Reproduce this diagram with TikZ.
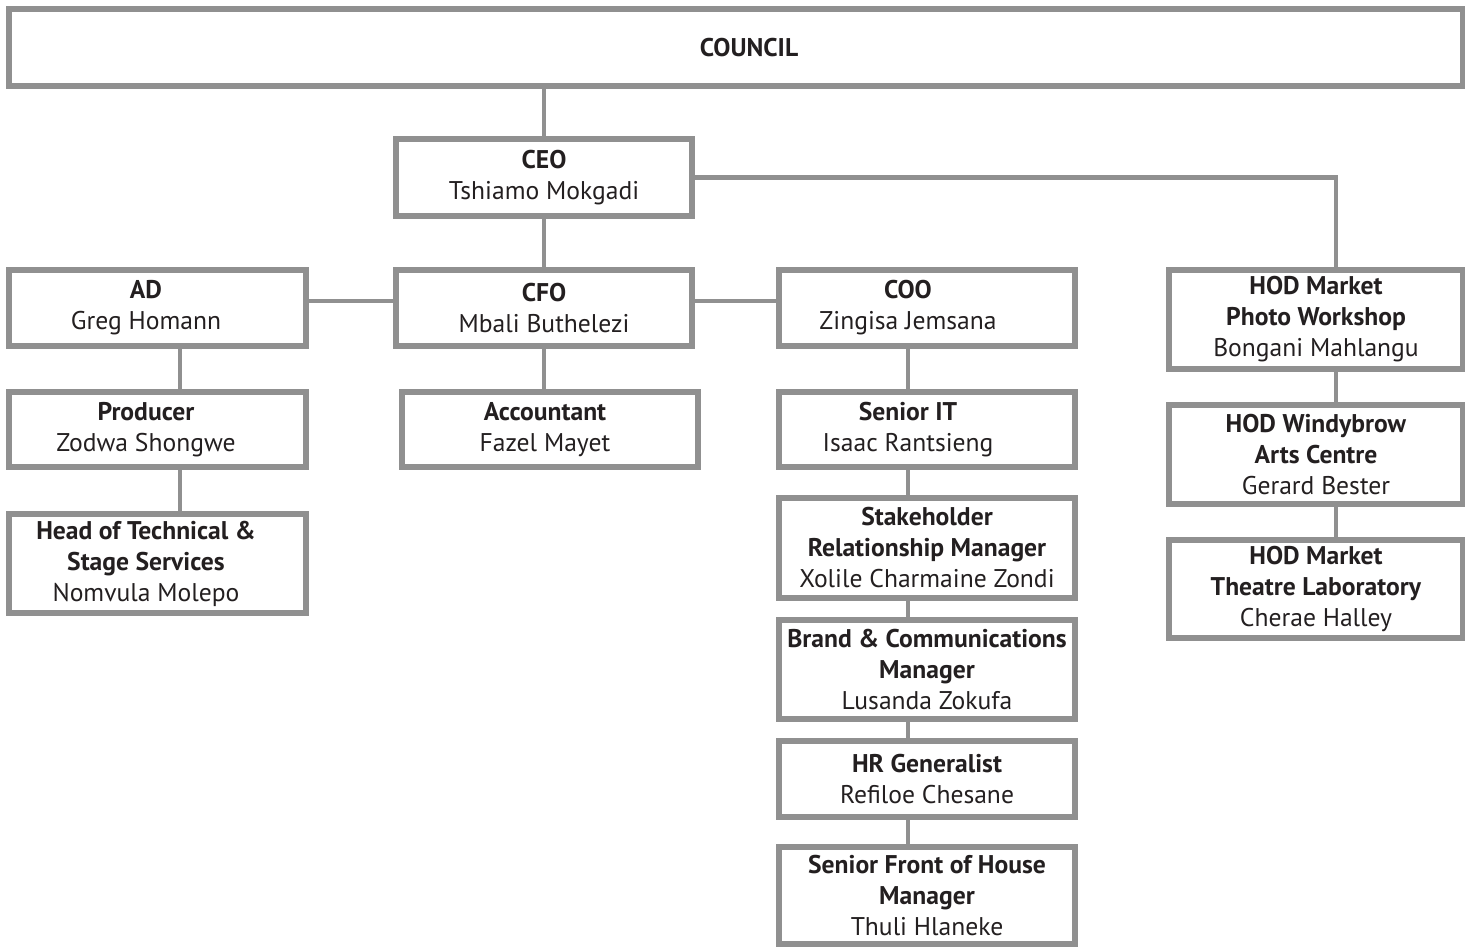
\documentclass[tikz,border=0pt]{standalone}
\usepackage{fontspec}
\setmainfont{PT Sans}
\definecolor{linegray}{RGB}{144,144,144}
\definecolor{inkblack}{RGB}{35,31,32}
\tikzset{
  post/.style={draw=linegray, line width=3pt, rectangle, inner sep=0pt,
    align=center, text=inkblack, font=\fontsize{12.8}{15.5}\selectfont},
  posttext/.style={inner sep=0pt, align=center, text=inkblack,
    font=\fontsize{12.8}{15.5}\selectfont},
  link/.style={draw=linegray, line width=2.4pt},
}
\begin{document}
\begin{tikzpicture}[x=0.5pt, y=-0.5pt]
    \useasboundingbox (0,0) rectangle (1465,947);

    % top of the tree
    \node[post, minimum width=727pt, minimum height=38.5pt] (council) at (736,47.5) {};
    \node[posttext] (councilT) at (749,47.5) {\textbf{COUNCIL}};
    \node[post, minimum width=148pt, minimum height=38.5pt] (ceo) at (544,177.5) {\textbf{CEO}\\Tshiamo Mokgadi};

    % second row
    \node[post, minimum width=148.5pt, minimum height=38pt] (ad) at (157.5,308) {};
    \node[posttext] (adT) at (146,308) {\textbf{AD}\\Greg Homann};
    \node[post, minimum width=148pt, minimum height=38pt] (cfo) at (544,308) {\textbf{CFO}\\Mbali Buthelezi};
    \node[post, minimum width=148pt, minimum height=38pt] (coo) at (927,308) {};
    \node[posttext] (cooT) at (908,308) {\textbf{COO}\\Zingisa Jemsana};
    \node[post, minimum width=147pt, minimum height=49.5pt] (hodp) at (1316,319.5) {\textbf{HOD Market}\\\textbf{Photo Workshop}\\Bongani Mahlangu};

    % left column
    \node[post, minimum width=148.5pt, minimum height=37.5pt] (prod) at (157.5,429.5) {};
    \node[posttext] (prodT) at (146,429.5) {\textbf{Producer}\\Zodwa Shongwe};
    \node[post, minimum width=148.5pt, minimum height=49.5pt] (head) at (157.5,563.5) {};
    \node[posttext] (headT) at (146,563.5) {\textbf{Head of Technical \&}\\\textbf{Stage Services}\\Nomvula Molepo};

    % finance
    \node[post, minimum width=148pt, minimum height=37.5pt] (acct) at (550,429.5) {};
    \node[posttext] (acctT) at (545,429.5) {\textbf{Accountant}\\Fazel Mayet};

    % operations
    \node[post, minimum width=148pt, minimum height=37.5pt] (sit) at (927,429.5) {};
    \node[posttext] (sitT) at (908,429.5) {\textbf{Senior IT}\\Isaac Rantsieng};
    \node[post, minimum width=148pt, minimum height=50pt] (stake) at (927,548) {\textbf{Stakeholder}\\\textbf{Relationship Manager}\\Xolile Charmaine Zondi};
    \node[post, minimum width=148pt, minimum height=49.5pt] (brand) at (927,669.5) {\textbf{Brand \& Communications}\\\textbf{Manager}\\Lusanda Zokufa};
    \node[post, minimum width=148pt, minimum height=38pt] (hr) at (927,779) {\textbf{HR Generalist}\\Refiloe Chesane};
    \node[post, minimum width=148pt, minimum height=48.5pt] (foh) at (927,895.5) {\textbf{Senior Front of House}\\\textbf{Manager}\\Thuli Hlaneke};

    % right column
    \node[post, minimum width=147pt, minimum height=49.5pt] (wind) at (1316,454.5) {\textbf{HOD Windybrow}\\\textbf{Arts Centre}\\Gerard Bester};
    \node[post, minimum width=147pt, minimum height=49pt] (lab) at (1316,589) {\textbf{HOD Market}\\\textbf{Theatre Laboratory}\\Cherae Halley};

    % connectors
    \draw[link] (ceo.north) -- (ceo.north |- council.south);
    \draw[link] (ceo) -- (cfo);
    \draw[link] ([yshift=3.5pt]cfo.west) -- ([yshift=3.5pt]ad.east);
    \draw[link] ([yshift=3.5pt]cfo.east) -- ([yshift=3.5pt]coo.west);
    \draw[link] (ceo.east) -| ([xshift=10pt]hodp.north);
    \draw[link] (cfo.south) -- (cfo.south |- acct.north);

    \draw[link] ([xshift=11.25pt]ad.south) -- ([xshift=11.25pt]prod.north);
    \draw[link] ([xshift=11.25pt]prod.south) -- ([xshift=11.25pt]head.north);

    \draw[link] ([xshift=-9.5pt]coo.south) -- ([xshift=-9.5pt]sit.north);
    \draw[link] ([xshift=-9.5pt]sit.south) -- ([xshift=-9.5pt]stake.north);
    \draw[link] ([xshift=-9.5pt]stake.south) -- ([xshift=-9.5pt]brand.north);
    \draw[link] ([xshift=-9.5pt]brand.south) -- ([xshift=-9.5pt]hr.north);
    \draw[link] ([xshift=-9.5pt]hr.south) -- ([xshift=-9.5pt]foh.north);

    \draw[link] ([xshift=10pt]hodp.south) -- ([xshift=10pt]wind.north);
    \draw[link] ([xshift=10pt]wind.south) -- ([xshift=10pt]lab.north);
\end{tikzpicture}
\end{document}
